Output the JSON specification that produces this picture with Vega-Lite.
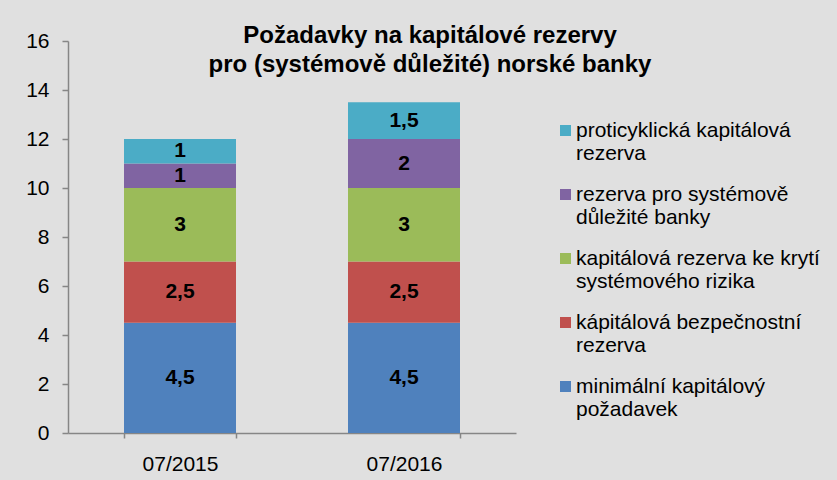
{
  "$schema": "https://vega.github.io/schema/vega-lite/v6.json",
  "width": 448,
  "height": 392,
  "autosize": "none",
  "padding": {"left": 68, "top": 41, "right": 321, "bottom": 47},
  "background": "#e0e0e0",
  "title": {
    "text": ["Požadavky na kapitálové rezervy", "pro (systémově důležité) norské banky"],
    "font": "Liberation Sans",
    "fontSize": 24,
    "fontWeight": "bold",
    "color": "#000000",
    "anchor": "middle",
    "frame": "group",
    "dx": 138,
    "offset": -47,
    "lineHeight": 29
  },
  "data": {
    "values": [
      {"obdobi": "07/2015", "slozka": "minimální kapitálový požadavek", "poradi": 1, "hodnota": 4.5, "popis": "4,5"},
      {"obdobi": "07/2015", "slozka": "kápitálová bezpečnostní rezerva", "poradi": 2, "hodnota": 2.5, "popis": "2,5"},
      {"obdobi": "07/2015", "slozka": "kapitálová rezerva ke krytí systémového rizika", "poradi": 3, "hodnota": 3, "popis": "3"},
      {"obdobi": "07/2015", "slozka": "rezerva pro systémově důležité banky", "poradi": 4, "hodnota": 1, "popis": "1"},
      {"obdobi": "07/2015", "slozka": "proticyklická kapitálová rezerva", "poradi": 5, "hodnota": 1, "popis": "1"},
      {"obdobi": "07/2016", "slozka": "minimální kapitálový požadavek", "poradi": 1, "hodnota": 4.5, "popis": "4,5"},
      {"obdobi": "07/2016", "slozka": "kápitálová bezpečnostní rezerva", "poradi": 2, "hodnota": 2.5, "popis": "2,5"},
      {"obdobi": "07/2016", "slozka": "kapitálová rezerva ke krytí systémového rizika", "poradi": 3, "hodnota": 3, "popis": "3"},
      {"obdobi": "07/2016", "slozka": "rezerva pro systémově důležité banky", "poradi": 4, "hodnota": 2, "popis": "2"},
      {"obdobi": "07/2016", "slozka": "proticyklická kapitálová rezerva", "poradi": 5, "hodnota": 1.5, "popis": "1,5"}
    ]
  },
  "encoding": {
    "x": {
      "field": "obdobi",
      "type": "nominal",
      "title": null,
      "scale": {"paddingInner": 0.5, "paddingOuter": 0.25},
      "axis": {
        "labelAngle": 0,
        "labelFont": "Liberation Sans",
        "labelFontSize": 21,
        "labelColor": "#000000",
        "labelPadding": 15,
        "domainColor": "#868686",
        "tickColor": "#868686",
        "tickSize": 5,
        "tickBand": "extent"
      }
    },
    "y": {
      "field": "hodnota",
      "type": "quantitative",
      "stack": "zero",
      "title": null,
      "scale": {"domain": [0, 16], "nice": false},
      "axis": {
        "values": [0, 2, 4, 6, 8, 10, 12, 14, 16],
        "grid": false,
        "labelFont": "Liberation Sans",
        "labelFontSize": 21,
        "labelColor": "#000000",
        "labelPadding": 13,
        "domainColor": "#868686",
        "tickColor": "#868686",
        "tickSize": 6
      }
    },
    "order": {"field": "poradi", "type": "quantitative"}
  },
  "layer": [
    {
      "mark": {"type": "bar", "stroke": null},
      "encoding": {
        "color": {
          "field": "slozka",
          "type": "nominal",
          "scale": {
            "domain": [
              "proticyklická kapitálová rezerva",
              "rezerva pro systémově důležité banky",
              "kapitálová rezerva ke krytí systémového rizika",
              "kápitálová bezpečnostní rezerva",
              "minimální kapitálový požadavek"
            ],
            "range": ["#4BACC6", "#8064A2", "#9BBB59", "#C0504D", "#4F81BD"]
          },
          "legend": {
            "title": null,
            "orient": "none",
            "legendX": 487,
            "legendY": 79,
            "symbolType": "square",
            "symbolSize": 121,
            "symbolStrokeWidth": 0,
            "symbolOpacity": 1,
            "labelFont": "Liberation Sans",
            "labelFontSize": 21,
            "labelColor": "#000000",
            "labelOffset": 0,
            "labelLimit": 400,
            "labelBaseline": "middle",
            "rowPadding": 19,
            "labelExpr": "{'proticyklická kapitálová rezerva': ['proticyklická kapitálová', 'rezerva'], 'rezerva pro systémově důležité banky': ['rezerva pro systémově', 'důležité banky'], 'kapitálová rezerva ke krytí systémového rizika': ['kapitálová rezerva ke krytí', 'systémového rizika'], 'kápitálová bezpečnostní rezerva': ['kápitálová bezpečnostní', 'rezerva'], 'minimální kapitálový požadavek': ['minimální kapitálový', 'požadavek']}[datum.label]"
          }
        }
      }
    },
    {
      "mark": {"type": "text", "font": "Liberation Sans", "fontSize": 21, "fontWeight": "bold", "color": "#000000", "baseline": "middle"},
      "encoding": {
        "y": {"field": "hodnota", "type": "quantitative", "stack": "zero", "bandPosition": 0.5},
        "text": {"field": "popis"}
      }
    }
  ],
  "config": {
    "view": {"stroke": null},
    "axis": {"domainWidth": 1.5, "tickWidth": 1.5}
  }
}
